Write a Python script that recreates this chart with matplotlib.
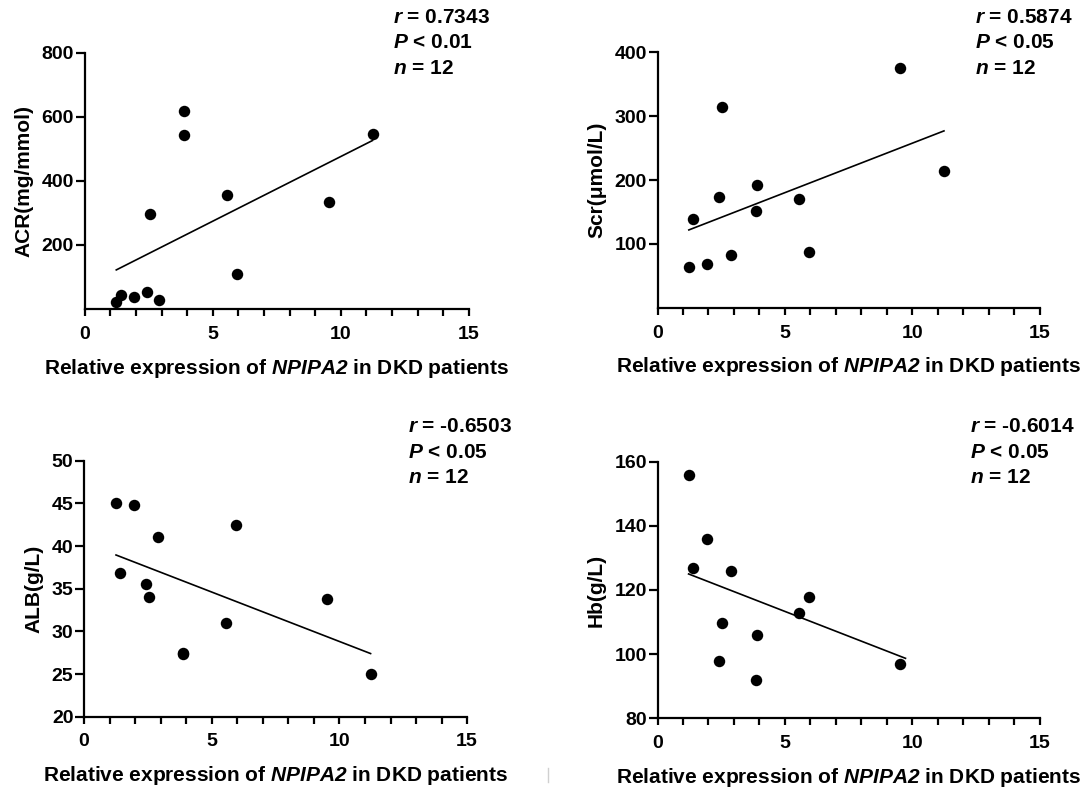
import numpy as np
import matplotlib
matplotlib.use("Agg")
import matplotlib.pyplot as plt
from matplotlib.lines import Line2D
from matplotlib.ticker import MultipleLocator

plt.rcParams.update({
    "font.family": "Liberation Sans",
    "font.weight": "bold",
    "mathtext.fontset": "custom",
    "mathtext.rm": "Liberation Sans:bold",
    "mathtext.bf": "Liberation Sans:bold",
    "mathtext.sf": "Liberation Sans:italic:bold",
})

# NPIPA2 relative expression for each DKD patient
expression = [1.23, 1.41, 1.94, 2.42, 2.53, 2.90, 3.86, 3.89, 5.54, 5.95, 9.53, 11.24]

# clinical indices, same patient order
acr = [21, 45, 38.5, 53, 295, 27, 544, 618, 357, 109, 335, 547]
scr = [64.5, 139, 68, 174, 315, 83, 151, 193, 170, 87.5, 375, 215]
alb = [45.0, 36.8, 44.8, 35.5, 34.0, 41.1, 27.3, 27.5, 31.0, 42.5, 33.8, 25.0]
hb = [155.7, 126.9, 135.9, 97.9, 109.8, 125.9, 91.8, 106.0, 112.9, 117.8, 96.9, np.nan]

# fitted regression lines (start/end)
acr_fit_x, acr_fit_y = [1.23, 11.24], [122, 526]
scr_fit_x, scr_fit_y = [1.23, 11.24], [122, 277]
alb_fit_x, alb_fit_y = [1.25, 11.22], [38.95, 27.4]
hb_fit_x, hb_fit_y = [1.22, 9.73], [125, 98.7]

y_labels = ["ACR(mg/mmol)", "Scr(μmol/L)", "ALB(g/L)", "Hb(g/L)"]
y_ticks = [
    [200, 400, 600, 800],
    [100, 200, 300, 400],
    [20, 25, 30, 35, 40, 45, 50],
    [80, 100, 120, 140, 160],
]
y_limits = [(0, 800), (0, 400), (20, 50), (80, 160)]
stats_r = ["0.7343", "0.5874", "-0.6503", "-0.6014"]
stats_p = ["0.01", "0.05", "0.05", "0.05"]
stats_n = ["12", "12", "12", "12"]
x_ticks = [0, 5, 10, 15]

W, H = 1088, 791
fig = plt.figure(figsize=(W / 100, H / 100), dpi=100)
fig.patch.set_facecolor("white")

# axes frames in pixels: (x at 0, x at 15, y top, y bottom)
frames = [
    (84.8, 468.8, 52.7, 309.0),
    (657.5, 1039.8, 52.3, 307.9),
    (84.1, 467.1, 460.7, 716.7),
    (657.5, 1039.8, 461.7, 718.3),
]
stat_pos = [
    (392.7, [23.3, 48.3, 74.0]),
    (974.8, [23.3, 48.3, 74.0]),
    (408.3, [431.7, 457.7, 483.3]),
    (970.3, [432.3, 457.7, 483.3]),
]

series = [acr, scr, alb, hb]
fits = [(acr_fit_x, acr_fit_y), (scr_fit_x, scr_fit_y),
        (alb_fit_x, alb_fit_y), (hb_fit_x, hb_fit_y)]

for i in range(4):
    x0, x1, yt, yb = frames[i]
    ax = fig.add_axes([x0 / W, 1 - yb / H, (x1 - x0) / W, (yb - yt) / H])
    ax.scatter(expression, series[i], s=68, color="black", zorder=3,
               linewidths=0)
    fx, fy = fits[i]
    ax.plot(fx, fy, color="black", lw=1.2, zorder=2)

    ax.set_xlim(0, 15)
    ax.set_ylim(*y_limits[i])
    ax.set_xticks(x_ticks)
    ax.xaxis.set_minor_locator(MultipleLocator(1))
    ax.set_yticks(y_ticks[i])
    for s in ("top", "right"):
        ax.spines[s].set_visible(False)
    for s in ("left", "bottom"):
        ax.spines[s].set_linewidth(1.6)
    ax.tick_params(axis="x", which="both", direction="out", length=5,
                   width=1.6, labelsize=14, pad=7)
    ax.tick_params(axis="y", which="major", direction="out", length=6.2,
                   width=1.6, labelsize=14, pad=1.5)
    for lab in ax.get_xticklabels() + ax.get_yticklabels():
        lab.set_fontweight("bold")
    ax.set_xlabel(r"Relative expression of $\mathsf{NPIPA2}$ in DKD patients",
                  fontsize=15, fontweight="bold", labelpad=10)
    ax.set_ylabel(y_labels[i], fontsize=15, fontweight="bold", labelpad=6)

    tx, ty = stat_pos[i]
    lines = [r"$\mathsf{r}$ = " + stats_r[i],
             r"$\mathsf{P}$ < " + stats_p[i],
             r"$\mathsf{n}$ = " + stats_n[i]]
    for line, yy in zip(lines, ty):
        fig.text(tx / W, 1 - yy / H, line, fontsize=15, fontweight="bold",
                 ha="left", va="baseline")

# faint vertical rule near the bottom centre
fig.add_artist(Line2D([547.5 / W, 547.5 / W], [1 - 782 / H, 1 - 768 / H],
                      color="#d0d0d0", lw=1.0))

fig.savefig("out.png", dpi=100, facecolor="white")
